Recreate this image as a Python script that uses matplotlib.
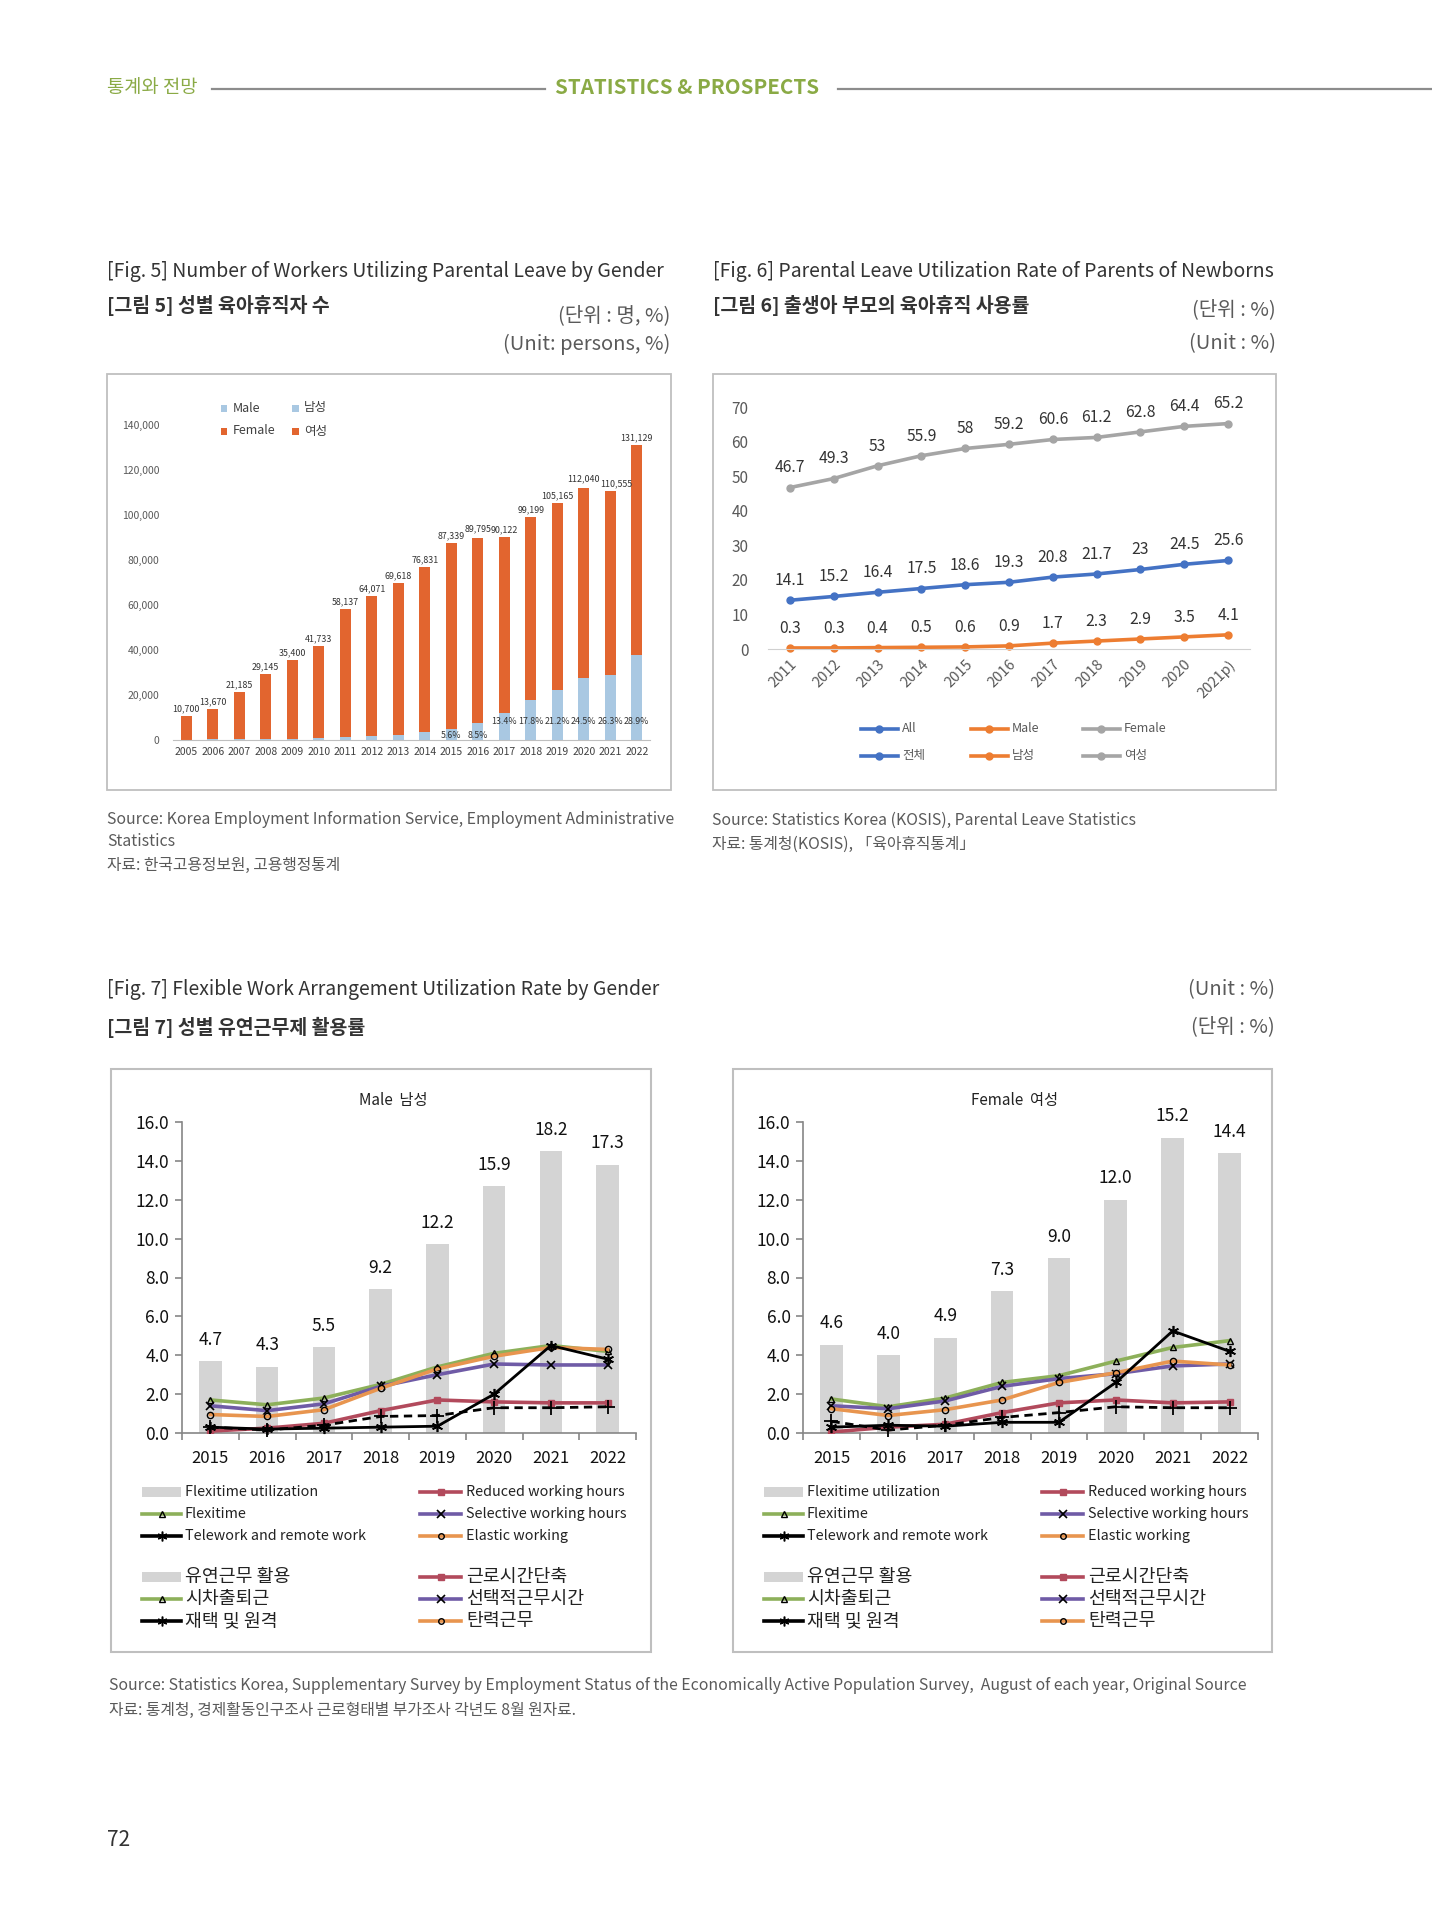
import matplotlib
matplotlib.use('Agg')
import matplotlib.pyplot as plt
from matplotlib.patches import Rectangle
from matplotlib.lines import Line2D
from matplotlib.ticker import FuncFormatter, FixedLocator
import numpy as np

plt.rcParams['font.family'] = ['Noto Sans CJK KR', 'DejaVu Sans']

# ---------------- data ----------------
# Fig.5 parental leave users by gender
fig5_years = ['2005', '2006', '2007', '2008', '2009', '2010', '2011', '2012', '2013',
              '2014', '2015', '2016', '2017', '2018', '2019', '2020', '2021', '2022']
fig5_total = [10700, 13670, 21185, 29145, 35400, 41733, 58137, 64071, 69618,
              76831, 87339, 89795, 90122, 99199, 105165, 112040, 110555, 131129]
fig5_male = [208, 230, 310, 355, 502, 819, 1402, 1790, 2293,
             3421, 4872, 7616, 12043, 17662, 22297, 27423, 29041, 37885]
fig5_share_labels = ['5.6%', '8.5%', '13.4%', '17.8%', '21.2%', '24.5%', '26.3%', '28.9%']

# Fig.6 parental leave utilization rate
fig6_years = ['2011', '2012', '2013', '2014', '2015', '2016', '2017', '2018', '2019', '2020', '2021p)']
fig6_all = [14.1, 15.2, 16.4, 17.5, 18.6, 19.3, 20.8, 21.7, 23, 24.5, 25.6]
fig6_male = [0.3, 0.3, 0.4, 0.5, 0.6, 0.9, 1.7, 2.3, 2.9, 3.5, 4.1]
fig6_female = [46.7, 49.3, 53, 55.9, 58, 59.2, 60.6, 61.2, 62.8, 64.4, 65.2]

# Fig.7 flexible work arrangement utilization
fig7_years = ['2015', '2016', '2017', '2018', '2019', '2020', '2021', '2022']
male_bar = [3.7, 3.4, 4.4, 7.4, 9.7, 12.7, 14.5, 13.8]
male_bar_labels = ['4.7', '4.3', '5.5', '9.2', '12.2', '15.9', '18.2', '17.3']
male_flexitime = [1.7, 1.45, 1.8, 2.5, 3.4, 4.1, 4.5, 4.2]
male_selective = [1.4, 1.15, 1.5, 2.4, 3.0, 3.55, 3.5, 3.5]
male_elastic = [0.95, 0.85, 1.2, 2.3, 3.3, 3.95, 4.4, 4.3]
male_reduced = [0.1, 0.25, 0.5, 1.15, 1.7, 1.6, 1.55, 1.55]
male_telework = [0.3, 0.2, 0.25, 0.3, 0.35, 2.0, 4.5, 3.8]
male_other = [0.3, 0.15, 0.4, 0.85, 0.9, 1.3, 1.3, 1.35]

female_bar = [4.55, 4.0, 4.9, 7.3, 9.0, 12.0, 15.2, 14.4]
female_bar_labels = ['4.6', '4.0', '4.9', '7.3', '9.0', '12.0', '15.2', '14.4']
female_flexitime = [1.75, 1.35, 1.8, 2.6, 2.95, 3.7, 4.4, 4.75]
female_selective = [1.4, 1.25, 1.65, 2.4, 2.8, 3.05, 3.45, 3.55]
female_elastic = [1.25, 0.9, 1.2, 1.7, 2.6, 3.1, 3.7, 3.5]
female_reduced = [0.05, 0.3, 0.45, 1.05, 1.55, 1.7, 1.55, 1.6]
female_telework = [0.3, 0.4, 0.35, 0.55, 0.55, 2.6, 5.25, 4.2]
female_other = [0.6, 0.15, 0.4, 0.8, 1.05, 1.35, 1.3, 1.3]

# ---------------- styles ----------------
C_FEMALE5 = '#E2652F'
C_MALE5 = '#A9C8E2'
C_ALL = '#4472C4'
C_M6 = '#ED7D31'
C_F6 = '#A5A5A5'
C_GREEN = '#8DB05A'
C_RED = '#B24A5C'
C_PURPLE = '#6F5BA6'
C_ORANGE = '#E8954F'
C_BAR7 = '#D4D4D4'
GREEN_HDR = '#8AAA45'
TXT = '#333333'
SUB = '#5A5A5A'

W, H = 1432, 1920
fig = plt.figure(figsize=(W / 100, H / 100), dpi=100)
fig.patch.set_facecolor('white')


def ax_at(x0, y0, x1, y1):
    return fig.add_axes([x0 / W, 1 - y1 / H, (x1 - x0) / W, (y1 - y0) / H])


def txt(x, y, s, **kw):
    kw.setdefault('va', 'center')
    kw.setdefault('color', TXT)
    return fig.text(x / W, 1 - y / H, s, **kw)


def box(x0, y0, x1, y1, ec='#BFBFBF', lw=1.3):
    fig.add_artist(Rectangle((x0 / W, 1 - y1 / H), (x1 - x0) / W, (y1 - y0) / H,
                             transform=fig.transFigure, fill=False, ec=ec, lw=lw))


def fline(x0, x1, y, **kw):
    fig.add_artist(Line2D([x0 / W, x1 / W], [1 - y / H, 1 - y / H],
                          transform=fig.transFigure, **kw))


def fmark(x, y, **kw):
    fig.add_artist(Line2D([x / W], [1 - y / H], transform=fig.transFigure, **kw))


def fsquare(x, y, s, color):
    fig.add_artist(Rectangle(((x - s / 2) / W, 1 - (y + s / 2) / H), s / W, s / H,
                             transform=fig.transFigure, color=color, lw=0))


TITLE_FS = 14
UNIT_FS = 14.5
SRC_FS = 11.4

# ---------------- header ----------------
txt(107, 88, '통계와 전망', fontsize=13.5, color=GREEN_HDR)
fline(212, 545, 89, color='#8C8C8C', lw=1.6)
txt(555, 88, 'STATISTICS & PROSPECTS', fontsize=14.8, color=GREEN_HDR, fontweight='bold')
fline(838, 1432, 89, color='#8C8C8C', lw=1.6)

# ---------------- Fig 5 ----------------
txt(107, 271, '[Fig. 5] Number of Workers Utilizing Parental Leave by Gender', fontsize=TITLE_FS)
txt(107, 306, '[그림 5] 성별 육아휴직자 수', fontsize=TITLE_FS, fontweight='bold')
txt(670, 316, '(단위 : 명, %)', fontsize=UNIT_FS, color=SUB, ha='right')
txt(670, 344, '(Unit: persons, %)', fontsize=UNIT_FS, color=SUB, ha='right')
box(107, 374, 671, 790)

ax5 = ax_at(173, 425, 650, 740)
x5 = np.arange(len(fig5_years))
fig5_female = [t - m for t, m in zip(fig5_total, fig5_male)]
ax5.bar(x5, fig5_male, width=0.42, color=C_MALE5)
ax5.bar(x5, fig5_female, width=0.42, bottom=fig5_male, color=C_FEMALE5)
ax5.set_xlim(-0.5, len(fig5_years) - 0.5)
ax5.set_ylim(0, 140000)
ax5.set_yticks(range(0, 140001, 20000))
ax5.yaxis.set_major_formatter(FuncFormatter(lambda v, p: f'{int(v):,}'))
ax5.set_xticks(x5)
ax5.set_xticklabels(fig5_years)
ax5.tick_params(axis='y', length=0, labelsize=7.5, labelcolor='#595959', pad=10)
ax5.tick_params(axis='x', length=0, labelsize=7.5, labelcolor='#404040', pad=5)
for s in ['top', 'right', 'left']:
    ax5.spines[s].set_visible(False)
ax5.spines['bottom'].set_color('#BFBFBF')
for i, v in enumerate(fig5_total):
    dx = 4 if fig5_years[i] == '2021' else 0
    dy = 3.5 if fig5_years[i] in ('2016', '2020') else 2
    ax5.annotate(f'{v:,}', (x5[i], v), xytext=(dx, dy), textcoords='offset points',
                 ha='center', va='bottom', fontsize=6.4, color='#333333')
first_share = len(fig5_years) - len(fig5_share_labels)
for j, lab in enumerate(fig5_share_labels):
    i = first_share + j
    ypos = 2200 if j < 2 else 8200
    ax5.text(x5[i], ypos, lab, ha='center', va='center', fontsize=6.4, color='#333333')
# legend
fsquare(224, 408, 7, C_MALE5)
txt(233, 408, 'Male', fontsize=9, color='#404040')
fsquare(295, 408, 7, C_MALE5)
txt(304, 408, '남성', fontsize=9, color='#404040')
fsquare(224, 431, 7, C_FEMALE5)
txt(233, 431, 'Female', fontsize=9, color='#404040')
fsquare(295, 431, 7, C_FEMALE5)
txt(304, 431, '여성', fontsize=9, color='#404040')

txt(107, 820, 'Source: Korea Employment Information Service, Employment Administrative', fontsize=SRC_FS, color=SUB)
txt(107, 842, 'Statistics', fontsize=SRC_FS, color=SUB)
txt(107, 865, '자료: 한국고용정보원, 고용행정통계', fontsize=SRC_FS, color=SUB)

# ---------------- Fig 6 ----------------
txt(713, 271, '[Fig. 6] Parental Leave Utilization Rate of Parents of Newborns', fontsize=TITLE_FS)
txt(713, 306, '[그림 6] 출생아 부모의 육아휴직 사용률', fontsize=TITLE_FS, fontweight='bold')
txt(1276, 310, '(단위 : %)', fontsize=UNIT_FS, color=SUB, ha='right')
txt(1276, 344, '(Unit : %)', fontsize=UNIT_FS, color=SUB, ha='right')
box(713, 374, 1276, 790)

ax6 = ax_at(768, 407, 1250, 649)
x6 = np.arange(len(fig6_years))
for series, col in [(fig6_female, C_F6), (fig6_all, C_ALL), (fig6_male, C_M6)]:
    ax6.plot(x6, series, color=col, lw=2.6, marker='o', ms=5, clip_on=False)
    for i, v in enumerate(series):
        ax6.annotate(f'{v:g}', (x6[i], v), xytext=(0, 8), textcoords='offset points',
                     ha='center', va='bottom', fontsize=11.3, color='#333333')
ax6.set_xlim(-0.5, len(fig6_years) - 0.5)
ax6.set_ylim(0, 70)
ax6.set_yticks(range(0, 71, 10))
ax6.set_xticks(x6)
ax6.set_xticklabels(fig6_years, rotation=45, ha='right', rotation_mode='anchor')
ax6.tick_params(axis='y', length=0, labelsize=11, labelcolor='#595959', pad=14)
ax6.tick_params(axis='x', length=0, labelsize=10.5, labelcolor='#595959', pad=6)
for s in ['top', 'right', 'left']:
    ax6.spines[s].set_visible(False)
ax6.spines['bottom'].set_color('#D0D0D0')
for (lx, lab, col) in [(861, 'All', C_ALL), (971, 'Male', C_M6), (1083, 'Female', C_F6)]:
    fline(lx, lx + 37, 729, color=col, lw=2.6)
    fmark(lx + 18, 729, marker='o', ms=5, color=col)
    txt(lx + 41, 729, lab, fontsize=9, color='#595959')
for (lx, lab, col) in [(861, '전체', C_ALL), (971, '남성', C_M6), (1083, '여성', C_F6)]:
    fline(lx, lx + 37, 756, color=col, lw=2.6)
    fmark(lx + 18, 756, marker='o', ms=5, color=col)
    txt(lx + 41, 756, lab, fontsize=9, color='#595959')

txt(712, 820, 'Source: Statistics Korea (KOSIS), Parental Leave Statistics', fontsize=SRC_FS, color=SUB)
txt(712, 844, '자료: 통계청(KOSIS), 「육아휴직통계」', fontsize=SRC_FS, color=SUB)

# ---------------- Fig 7 ----------------
txt(107, 990, '[Fig. 7] Flexible Work Arrangement Utilization Rate by Gender', fontsize=TITLE_FS)
txt(107, 1027, '[그림 7] 성별 유연근무제 활용률', fontsize=TITLE_FS, fontweight='bold')
txt(1275, 990, '(Unit : %)', fontsize=UNIT_FS, color=SUB, ha='right')
txt(1275, 1027, '(단위 : %)', fontsize=UNIT_FS, color=SUB, ha='right')

ASTER = (6, 2, 0)


def panel(x0, x1, bars, bar_labels, flex, sel, ela, red, tele, other, title, box_x0, box_x1):
    box(box_x0, 1069, box_x1, 1652, ec='#BFBFBF', lw=1.5)
    ax = ax_at(x0, 1122, x1, 1433)
    x = np.arange(len(fig7_years))
    ax.bar(x, bars, width=0.4, color=C_BAR7, zorder=1)
    for i, lab in enumerate(bar_labels):
        ax.annotate(lab, (x[i], bars[i]), xytext=(0, 9), textcoords='offset points',
                    ha='center', va='bottom', fontsize=12.5, color='#111111')
    ax.plot(x, flex, color=C_GREEN, lw=2.6, marker='^', ms=5, mfc='none', mec='black', mew=1, zorder=3)
    ax.plot(x, sel, color=C_PURPLE, lw=2.6, marker='x', ms=6, mec='black', mew=1.2, zorder=3)
    ax.plot(x, ela, color=C_ORANGE, lw=2.6, marker='o', ms=4.5, mfc='none', mec='black', mew=1, zorder=3)
    ax.plot(x, red, color=C_RED, lw=2.6, marker='s', ms=5, mfc=C_RED, mec=C_RED, zorder=3)
    ax.plot(x, other, color='black', lw=2, ls=(0, (3, 2)), marker='+', ms=10, mew=1.3, zorder=4, clip_on=False)
    ax.plot(x, tele, color='black', lw=2, marker=ASTER, ms=8, mew=1.2, zorder=5, clip_on=False)
    ax.set_xlim(-0.5, len(fig7_years) - 0.5)
    ax.set_ylim(0, 16)
    ax.set_yticks(np.arange(0, 16.1, 2))
    ax.yaxis.set_major_formatter(FuncFormatter(lambda v, p: f'{v:.1f}'))
    ax.set_xticks(x)
    ax.set_xticklabels(fig7_years)
    ax.xaxis.set_minor_locator(FixedLocator(np.arange(-0.5, len(fig7_years), 1.0)))
    ax.tick_params(axis='x', which='major', length=0, labelsize=12, pad=12, labelcolor='#111111')
    ax.tick_params(axis='x', which='minor', length=5, direction='out', color='#868686', width=1.2)
    ax.tick_params(axis='y', length=5, direction='out', color='#868686', width=1.2, labelsize=12.5,
                   pad=4, labelcolor='#111111')
    for s in ['top', 'right']:
        ax.spines[s].set_visible(False)
    for s in ['left', 'bottom']:
        ax.spines[s].set_color('#868686')
        ax.spines[s].set_linewidth(1.2)
    txt((box_x0 + box_x1) / 2 + 12, 1100, title, fontsize=11, ha='center', color='#222222')

    # legend
    bx = box_x0
    c1_line0, c1_line1, c1_text = bx + 31, bx + 70, bx + 74
    c2_line0, c2_line1, c2_text = bx + 309, bx + 350, bx + 355
    rows_en = [1492, 1514, 1536]
    rows_ko = [1577, 1599, 1621]
    ent = [
        ('bar', None, None, 'Flexitime utilization', '유연근무 활용'),
        ('line', C_GREEN, dict(marker='^', ms=4, mfc='none', mec='black', mew=1), 'Flexitime', '시차출퇴근'),
        ('line', 'black', dict(marker=ASTER, ms=7, mec='black', mew=1.1), 'Telework and remote work', '재택 및 원격'),
        ('line', C_RED, dict(marker='s', ms=4.5, mfc=C_RED, mec=C_RED), 'Reduced working hours', '근로시간단축'),
        ('line', C_PURPLE, dict(marker='x', ms=5.5, mec='black', mew=1.2), 'Selective working hours', '선택적근무시간'),
        ('line', C_ORANGE, dict(marker='o', ms=4, mfc='none', mec='black', mew=1), 'Elastic working', '탄력근무'),
    ]
    for k, (kind, col, mk, en, ko) in enumerate(ent):
        col_idx = k // 3
        r = k % 3
        l0, l1, tx = (c1_line0, c1_line1, c1_text) if col_idx == 0 else (c2_line0, c2_line1, c2_text)
        for (yy, label, fs) in [(rows_en[r], en, 10.3), (rows_ko[r], ko, 13.2)]:
            if kind == 'bar':
                fig.add_artist(Rectangle((l0 / W, 1 - (yy + 5) / H), (l1 - l0) / W, 10 / H,
                                         transform=fig.transFigure, color=C_BAR7, lw=0))
            else:
                fline(l0, l1, yy, color=col, lw=2.6)
                fmark((l0 + l1) / 2, yy, linestyle='none', **mk)
            txt(tx, yy, label, fontsize=fs, color='#222222')


panel(182, 636, male_bar, male_bar_labels, male_flexitime, male_selective, male_elastic,
      male_reduced, male_telework, male_other, 'Male  남성', 111, 651)
panel(803, 1258, female_bar, female_bar_labels, female_flexitime, female_selective, female_elastic,
      female_reduced, female_telework, female_other, 'Female  여성', 733, 1272)

txt(109, 1686, 'Source: Statistics Korea, Supplementary Survey by Employment Status of the Economically Active '
               'Population Survey,  August of each year, Original Source', fontsize=SRC_FS, color=SUB)
txt(109, 1710, '자료: 통계청, 경제활동인구조사 근로형태별 부가조사 각년도 8월 원자료.', fontsize=SRC_FS, color=SUB)

txt(107, 1840, '72', fontsize=15, color='#333333')

fig.savefig('out.png', dpi=100, facecolor='white')
